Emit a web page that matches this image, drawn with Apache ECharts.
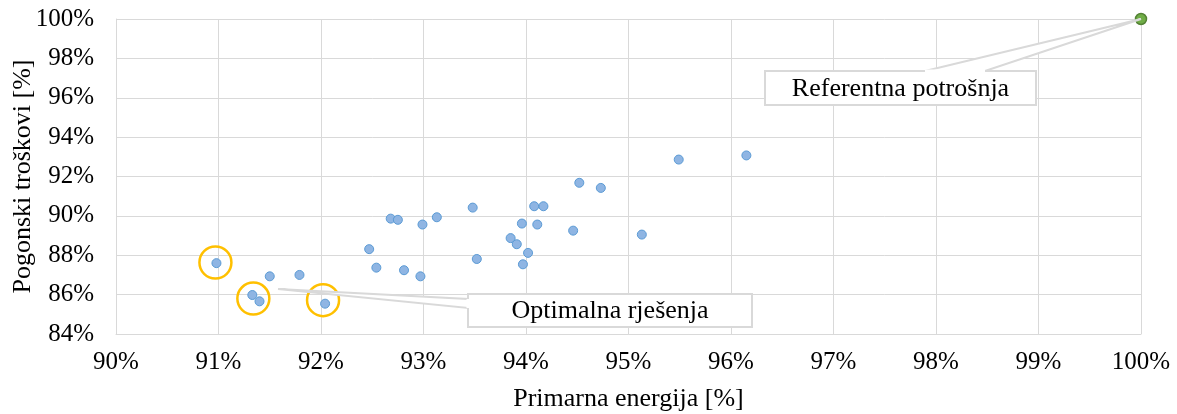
<!DOCTYPE html>
<html>
<head>
<meta charset="utf-8">
<title>Primarna energija i pogonski troškovi</title>
<script src="https://cdn.jsdelivr.net/npm/echarts@6/dist/echarts.min.js"></script>
<style>
  html, body { margin: 0; padding: 0; background: #ffffff; }
  #chart { width: 1177px; height: 414px; }
</style>
</head>
<body>
<div id="chart"></div>
<script>
// Simulated variants, relative to the reference consumption [%]
const primaryEnergy = [90.98, 91.33, 91.40, 91.50, 91.79, 92.04, 92.47, 92.54, 92.68, 92.75,
                       92.81, 92.99, 92.97, 93.13, 93.48, 93.52, 93.85, 93.91, 93.96, 93.97,
                       94.02, 94.08, 94.11, 94.17, 94.46, 94.52, 94.73, 95.13, 95.49, 96.15];
const operatingCost = [87.60, 85.98, 85.66, 86.93, 87.00, 85.54, 88.31, 87.37, 89.86, 89.80,
                       87.24, 89.56, 86.93, 89.93, 90.42, 87.81, 88.87, 88.56, 89.61, 87.54,
                       88.12, 90.49, 89.56, 90.49, 89.25, 91.68, 91.42, 89.05, 92.86, 93.07];

// Reference consumption point
const referenceEnergy = [100];
const referenceCost = [100];

// Centres of the rings marking the optimal solutions
const optimumEnergy = [90.97, 91.34, 92.02];
const optimumCost = [87.63, 85.80, 85.72];

// Axis ranges
const xRange = [90, 100, 1];
const yRange = [84, 100, 2];

const xTitle = 'Primarna energija [%]';
const yTitle = 'Pogonski troškovi [%]';
const referenceLabel = 'Referentna potrošnja';
const optimumLabel = 'Optimalna rješenja';

const FONT = '"Liberation Serif", "Times New Roman", serif';
const GRID = '#D9D9D9';

const zip = (a, b) => a.map((v, i) => [v, b[i]]);

const chart = echarts.init(document.getElementById('chart'), null, { renderer: 'canvas' });

chart.setOption({
  animation: false,
  backgroundColor: '#ffffff',
  grid: { left: 116, right: 36, top: 19, bottom: 80, containLabel: false, outerBoundsMode: 'none' },
  xAxis: {
    type: 'value',
    min: xRange[0], max: xRange[1], interval: xRange[2],
    name: xTitle,
    nameLocation: 'middle',
    nameGap: 52,
    nameMoveOverlap: false,
    nameTextStyle: { fontFamily: FONT, fontSize: 26, color: '#000' },
    axisLine: { show: true, lineStyle: { color: GRID, width: 1 } },
    axisTick: { show: false },
    axisLabel: { fontFamily: FONT, fontSize: 25, color: '#000', margin: 16,
                 formatter: v => v + '%' },
    splitLine: { show: true, lineStyle: { color: GRID, width: 1 } }
  },
  yAxis: {
    type: 'value',
    min: yRange[0], max: yRange[1], interval: yRange[2],
    name: yTitle,
    nameLocation: 'middle',
    nameGap: 80,
    nameMoveOverlap: false,
    nameTextStyle: { fontFamily: FONT, fontSize: 26, color: '#000' },
    axisLine: { show: true, lineStyle: { color: GRID, width: 1 } },
    axisTick: { show: false },
    axisLabel: { fontFamily: FONT, fontSize: 25, color: '#000', margin: 22,
                 formatter: v => v + '%' },
    splitLine: { show: true, lineStyle: { color: GRID, width: 1 } }
  },
  series: [
    {
      name: 'Varijante',
      type: 'scatter',
      data: zip(primaryEnergy, operatingCost),
      symbol: 'circle',
      symbolSize: 9,
      itemStyle: { color: '#8FB5E3', borderColor: '#5B9BD5', borderWidth: 1, opacity: 1 },
      z: 3
    },
    {
      name: 'Referentna potrošnja',
      type: 'scatter',
      data: zip(referenceEnergy, referenceCost),
      symbol: 'circle',
      symbolSize: 11,
      itemStyle: { color: '#70AD47', borderColor: '#548235', borderWidth: 1.5, opacity: 1 },
      z: 4
    },
    {
      name: 'Optimalna rješenja',
      type: 'scatter',
      data: zip(optimumEnergy, optimumCost),
      symbol: 'circle',
      symbolSize: 32,
      silent: true,
      itemStyle: { color: 'rgba(0,0,0,0)', borderColor: '#FFC000', borderWidth: 2.5, opacity: 1 },
      z: 5
    }
  ]
});

// Callout boxes with pointer wedges
const refTip = chart.convertToPixel({ gridIndex: 0 }, [referenceEnergy[0], referenceCost[0]]);
const refBox = { x: 765, y: 71, w: 271, h: 34 };
const optBox = { x: 468, y: 294, w: 284, h: 33 };
const optTip = [278, 289];

function callout(box, tip, wedge, text) {
  const vertical = wedge[0][0] === wedge[1][0];
  const dx = vertical ? 1.5 : 0;
  const dy = vertical ? 0 : 1.5;
  return [
    {
      type: 'polygon',
      shape: { points: [tip, wedge[0], wedge[1]] },
      style: { fill: '#ffffff', stroke: GRID, lineWidth: 2 },
      z: 10
    },
    {
      type: 'rect',
      shape: { x: box.x, y: box.y, width: box.w, height: box.h },
      style: { fill: '#ffffff', stroke: GRID, lineWidth: 2 },
      z: 11
    },
    {
      // opens the box outline where the wedge joins it
      type: 'polygon',
      shape: { points: [
        [wedge[0][0] + dx, wedge[0][1] + dy],
        [wedge[1][0] + dx, wedge[1][1] + dy],
        [wedge[1][0] - dx, wedge[1][1] - dy],
        [wedge[0][0] - dx, wedge[0][1] - dy]
      ] },
      style: { fill: '#ffffff' },
      z: 12
    },
    {
      type: 'text',
      x: box.x + box.w / 2,
      y: box.y + box.h / 2 + 1,
      style: { text: text, fontFamily: FONT, fontSize: 26, fill: '#000',
               align: 'center', verticalAlign: 'middle' },
      z: 13
    }
  ];
}

chart.setOption({
  graphic: [].concat(
    callout(refBox, refTip, [[925, refBox.y], [985, refBox.y]], referenceLabel),
    callout(optBox, optTip, [[optBox.x, 299], [optBox.x, 308]], optimumLabel)
  )
});
</script>
</body>
</html>
